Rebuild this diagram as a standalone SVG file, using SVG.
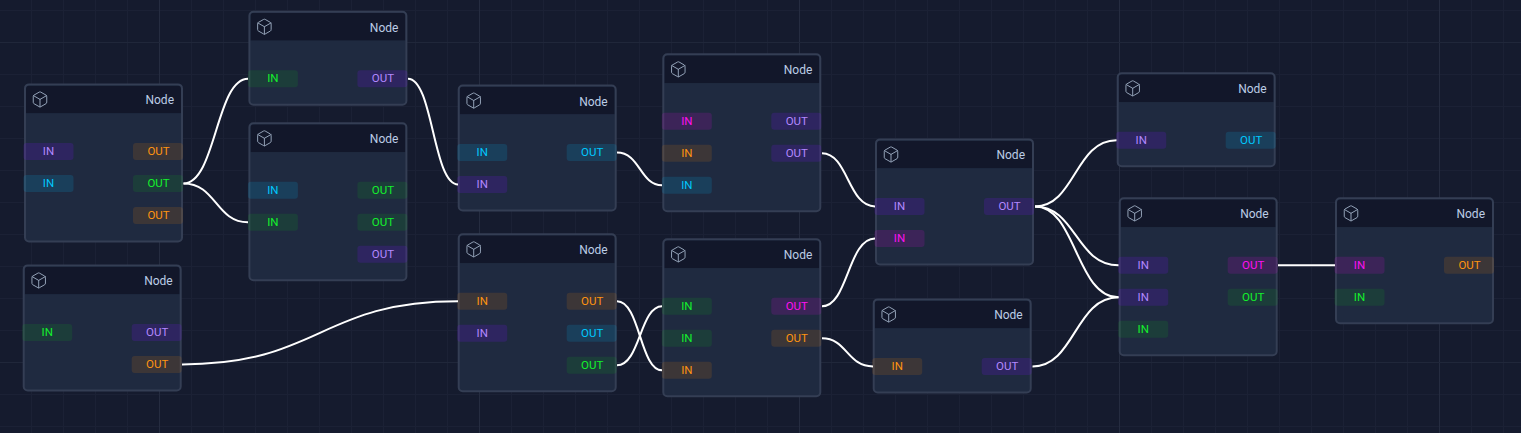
<svg xmlns="http://www.w3.org/2000/svg" width="1521" height="433" viewBox="0 0 1521 433">
<style>
.frame{fill:#1f2a40;stroke:#343e54;stroke-width:2}
.head{fill:#12172a}
.icon{fill:none;stroke:#94a3b8;stroke-width:1.33;stroke-linecap:round;stroke-linejoin:round}
.title{font:12px Roboto,"Liberation Sans",sans-serif;fill:#bccde6;text-anchor:end}
.lbl{font:11.5px Roboto,"Liberation Sans",sans-serif;text-anchor:middle;dominant-baseline:central}
.pu{fill:#7a14ff;fill-opacity:.17}.cy{fill:#00bfff;fill-opacity:.14}.gr{fill:#00ff00;fill-opacity:.09}.or{fill:#ff8c00;fill-opacity:.13}.ma{fill:#ff00ff;fill-opacity:.13}
.tpu{fill:#b388ff}.tcy{fill:#00c8ff}.tgr{fill:#14f02c}.tor{fill:#ff9410}.tma{fill:#ff10f0}
.wire{fill:none;stroke:#fff;stroke-width:2}
</style>
<defs>
<pattern id="minor" width="32" height="32" patternUnits="userSpaceOnUse" x="0" y="10">
<path d="M31.5 0V32M0 .5H32" fill="none" stroke="#1b2135" stroke-width="1"/>
</pattern>
<symbol id="cube" viewBox="0 0 24 24" width="18" height="18">
<path class="icon" d="M21 8a2 2 0 0 0-1-1.73l-7-4a2 2 0 0 0-2 0l-7 4A2 2 0 0 0 3 8v8a2 2 0 0 0 1 1.73l7 4a2 2 0 0 0 2 0l7-4A2 2 0 0 0 21 16ZM3.3 7l8.7 5 8.700-5M12 22V12"/>
</symbol>
<clipPath id="h"><path d="M2 30V6a4 4 0 0 1 4-4H153a4 4 0 0 1 4 4V30Z"/></clipPath>
</defs>
<rect width="1521" height="433" fill="#151b2e"/>
<rect width="1521" height="433" fill="url(#minor)"/>
<path d="M159.500 0V433M479.500 0V433M799.500 0V433M1119.500 0V433M1439.500 0V433" stroke="#252c40" stroke-width="1" fill="none"/>
<path d="M0 42.500H1521M0 362.500H1521" stroke="#20273a" stroke-width="1" fill="none"/>

<g id="node-1" transform="translate(24 83.400)">
<rect class="frame" x="1" y="1" width="157" height="157" rx="4"/><rect class="head" x="2" y="2" width="155" height="28" clip-path="url(#h)"/><use href="#cube" x="7" y="7"/><text class="title" x="150" y="21">Node</text>
<rect class="pu" x="-.5" y="59.500" width="50" height="17" rx="3"/><text class="lbl tpu" x="24.500" y="67.700">IN</text>
<rect class="cy" x="-.5" y="91.500" width="50" height="17" rx="3"/><text class="lbl tcy" x="24.500" y="99.700">IN</text>
<rect class="or" x="109" y="59.500" width="50" height="17" rx="3"/><text class="lbl tor" x="134.500" y="67.700">OUT</text>
<rect class="gr" x="109" y="91.500" width="50" height="17" rx="3"/><text class="lbl tgr" x="134.500" y="99.700">OUT</text>
<rect class="or" x="109" y="123.500" width="50" height="17" rx="3"/><text class="lbl tor" x="134.500" y="131.700">OUT</text>
</g>
<g id="node-2" transform="translate(248.400 10.700)">
<rect class="frame" x="1" y="1" width="157" height="93" rx="4"/><rect class="head" x="2" y="2" width="155" height="28" clip-path="url(#h)"/><use href="#cube" x="7" y="7"/><text class="title" x="150" y="21">Node</text>
<rect class="gr" x="-.5" y="59.500" width="50" height="17" rx="3"/><text class="lbl tgr" x="24.500" y="67.700">IN</text>
<rect class="pu" x="109" y="59.500" width="50" height="17" rx="3"/><text class="lbl tpu" x="134.500" y="67.700">OUT</text>
</g>
<g id="node-3" transform="translate(248.400 122.300)">
<rect class="frame" x="1" y="1" width="157" height="157" rx="4"/><rect class="head" x="2" y="2" width="155" height="28" clip-path="url(#h)"/><use href="#cube" x="7" y="7"/><text class="title" x="150" y="21">Node</text>
<rect class="cy" x="-.5" y="59.500" width="50" height="17" rx="3"/><text class="lbl tcy" x="24.500" y="67.700">IN</text>
<rect class="gr" x="-.5" y="91.500" width="50" height="17" rx="3"/><text class="lbl tgr" x="24.500" y="99.700">IN</text>
<rect class="gr" x="109" y="59.500" width="50" height="17" rx="3"/><text class="lbl tgr" x="134.500" y="67.700">OUT</text>
<rect class="gr" x="109" y="91.500" width="50" height="17" rx="3"/><text class="lbl tgr" x="134.500" y="99.700">OUT</text>
<rect class="pu" x="109" y="123.500" width="50" height="17" rx="3"/><text class="lbl tpu" x="134.500" y="131.700">OUT</text>
</g>
<g id="node-4" transform="translate(22.700 264.400)">
<rect class="frame" x="1" y="1" width="157" height="125" rx="4"/><rect class="head" x="2" y="2" width="155" height="28" clip-path="url(#h)"/><use href="#cube" x="7" y="7"/><text class="title" x="150" y="21">Node</text>
<rect class="gr" x="-.5" y="59.500" width="50" height="17" rx="3"/><text class="lbl tgr" x="24.500" y="67.700">IN</text>
<rect class="pu" x="109" y="59.500" width="50" height="17" rx="3"/><text class="lbl tpu" x="134.500" y="67.700">OUT</text>
<rect class="or" x="109" y="91.500" width="50" height="17" rx="3"/><text class="lbl tor" x="134.500" y="99.700">OUT</text>
</g>
<g id="node-5" transform="translate(457.700 84.500)">
<rect class="frame" x="1" y="1" width="157" height="125" rx="4"/><rect class="head" x="2" y="2" width="155" height="28" clip-path="url(#h)"/><use href="#cube" x="7" y="7"/><text class="title" x="150" y="21">Node</text>
<rect class="cy" x="-.5" y="59.500" width="50" height="17" rx="3"/><text class="lbl tcy" x="24.500" y="67.700">IN</text>
<rect class="pu" x="-.5" y="91.500" width="50" height="17" rx="3"/><text class="lbl tpu" x="24.500" y="99.700">IN</text>
<rect class="cy" x="109" y="59.500" width="50" height="17" rx="3"/><text class="lbl tcy" x="134.500" y="67.700">OUT</text>
</g>
<g id="node-6" transform="translate(457.700 233.300)">
<rect class="frame" x="1" y="1" width="157" height="157" rx="4"/><rect class="head" x="2" y="2" width="155" height="28" clip-path="url(#h)"/><use href="#cube" x="7" y="7"/><text class="title" x="150" y="21">Node</text>
<rect class="or" x="-.5" y="59.500" width="50" height="17" rx="3"/><text class="lbl tor" x="24.500" y="67.700">IN</text>
<rect class="pu" x="-.5" y="91.500" width="50" height="17" rx="3"/><text class="lbl tpu" x="24.500" y="99.700">IN</text>
<rect class="or" x="109" y="59.500" width="50" height="17" rx="3"/><text class="lbl tor" x="134.500" y="67.700">OUT</text>
<rect class="cy" x="109" y="91.500" width="50" height="17" rx="3"/><text class="lbl tcy" x="134.500" y="99.700">OUT</text>
<rect class="gr" x="109" y="123.500" width="50" height="17" rx="3"/><text class="lbl tgr" x="134.500" y="131.700">OUT</text>
</g>
<g id="node-7" transform="translate(662.300 53.300)">
<rect class="frame" x="1" y="1" width="157" height="157" rx="4"/><rect class="head" x="2" y="2" width="155" height="28" clip-path="url(#h)"/><use href="#cube" x="7" y="7"/><text class="title" x="150" y="21">Node</text>
<rect class="ma" x="-.5" y="59.500" width="50" height="17" rx="3"/><text class="lbl tma" x="24.500" y="67.700">IN</text>
<rect class="or" x="-.5" y="91.500" width="50" height="17" rx="3"/><text class="lbl tor" x="24.500" y="99.700">IN</text>
<rect class="cy" x="-.5" y="123.500" width="50" height="17" rx="3"/><text class="lbl tcy" x="24.500" y="131.700">IN</text>
<rect class="pu" x="109" y="59.500" width="50" height="17" rx="3"/><text class="lbl tpu" x="134.500" y="67.700">OUT</text>
<rect class="pu" x="109" y="91.500" width="50" height="17" rx="3"/><text class="lbl tpu" x="134.500" y="99.700">OUT</text>
</g>
<g id="node-8" transform="translate(662.300 238.300)">
<rect class="frame" x="1" y="1" width="157" height="157" rx="4"/><rect class="head" x="2" y="2" width="155" height="28" clip-path="url(#h)"/><use href="#cube" x="7" y="7"/><text class="title" x="150" y="21">Node</text>
<rect class="gr" x="-.5" y="59.500" width="50" height="17" rx="3"/><text class="lbl tgr" x="24.500" y="67.700">IN</text>
<rect class="gr" x="-.5" y="91.500" width="50" height="17" rx="3"/><text class="lbl tgr" x="24.500" y="99.700">IN</text>
<rect class="or" x="-.5" y="123.500" width="50" height="17" rx="3"/><text class="lbl tor" x="24.500" y="131.700">IN</text>
<rect class="ma" x="109" y="59.500" width="50" height="17" rx="3"/><text class="lbl tma" x="134.500" y="67.700">OUT</text>
<rect class="or" x="109" y="91.500" width="50" height="17" rx="3"/><text class="lbl tor" x="134.500" y="99.700">OUT</text>
</g>
<g id="node-9" transform="translate(875 138.400)">
<rect class="frame" x="1" y="1" width="157" height="125" rx="4"/><rect class="head" x="2" y="2" width="155" height="28" clip-path="url(#h)"/><use href="#cube" x="7" y="7"/><text class="title" x="150" y="21">Node</text>
<rect class="pu" x="-.5" y="59.500" width="50" height="17" rx="3"/><text class="lbl tpu" x="24.500" y="67.700">IN</text>
<rect class="ma" x="-.5" y="91.500" width="50" height="17" rx="3"/><text class="lbl tma" x="24.500" y="99.700">IN</text>
<rect class="pu" x="109" y="59.500" width="50" height="17" rx="3"/><text class="lbl tpu" x="134.500" y="67.700">OUT</text>
</g>
<g id="node-10" transform="translate(872.700 298.400)">
<rect class="frame" x="1" y="1" width="157" height="93" rx="4"/><rect class="head" x="2" y="2" width="155" height="28" clip-path="url(#h)"/><use href="#cube" x="7" y="7"/><text class="title" x="150" y="21">Node</text>
<rect class="or" x="-.5" y="59.500" width="50" height="17" rx="3"/><text class="lbl tor" x="24.500" y="67.700">IN</text>
<rect class="pu" x="109" y="59.500" width="50" height="17" rx="3"/><text class="lbl tpu" x="134.500" y="67.700">OUT</text>
</g>
<g id="node-11" transform="translate(1116.700 72.300)">
<rect class="frame" x="1" y="1" width="157" height="93" rx="4"/><rect class="head" x="2" y="2" width="155" height="28" clip-path="url(#h)"/><use href="#cube" x="7" y="7"/><text class="title" x="150" y="21">Node</text>
<rect class="pu" x="-.5" y="59.500" width="50" height="17" rx="3"/><text class="lbl tpu" x="24.500" y="67.700">IN</text>
<rect class="cy" x="109" y="59.500" width="50" height="17" rx="3"/><text class="lbl tcy" x="134.500" y="67.700">OUT</text>
</g>
<g id="node-12" transform="translate(1118.700 197.300)">
<rect class="frame" x="1" y="1" width="157" height="157" rx="4"/><rect class="head" x="2" y="2" width="155" height="28" clip-path="url(#h)"/><use href="#cube" x="7" y="7"/><text class="title" x="150" y="21">Node</text>
<rect class="pu" x="-.5" y="59.500" width="50" height="17" rx="3"/><text class="lbl tpu" x="24.500" y="67.700">IN</text>
<rect class="pu" x="-.5" y="91.500" width="50" height="17" rx="3"/><text class="lbl tpu" x="24.500" y="99.700">IN</text>
<rect class="gr" x="-.5" y="123.500" width="50" height="17" rx="3"/><text class="lbl tgr" x="24.500" y="131.700">IN</text>
<rect class="ma" x="109" y="59.500" width="50" height="17" rx="3"/><text class="lbl tma" x="134.500" y="67.700">OUT</text>
<rect class="gr" x="109" y="91.500" width="50" height="17" rx="3"/><text class="lbl tgr" x="134.500" y="99.700">OUT</text>
</g>
<g id="node-13" transform="translate(1335 197.300)">
<rect class="frame" x="1" y="1" width="157" height="125" rx="4"/><rect class="head" x="2" y="2" width="155" height="28" clip-path="url(#h)"/><use href="#cube" x="7" y="7"/><text class="title" x="150" y="21">Node</text>
<rect class="ma" x="-.5" y="59.500" width="50" height="17" rx="3"/><text class="lbl tma" x="24.500" y="67.700">IN</text>
<rect class="gr" x="-.5" y="91.500" width="50" height="17" rx="3"/><text class="lbl tgr" x="24.500" y="99.700">IN</text>
<rect class="or" x="109" y="59.500" width="50" height="17" rx="3"/><text class="lbl tor" x="134.500" y="67.700">OUT</text>
</g>
<g id="connectors">
<path class="wire" d="M183.500 183.400C216 183.400 216 78.700 248 78.700"/>
<path class="wire" d="M183.500 183.400C216 183.400 216 222.300 248 222.300"/>
<path class="wire" d="M408 78.700C433 78.700 433 184.500 458 184.500"/>
<path class="wire" d="M182 364.400C320 364.400 320 301.300 458 301.300"/>
<path class="wire" d="M617 152.500C640 152.500 640 185.300 662 185.300"/>
<path class="wire" d="M617 301.300C640 301.300 640 370.300 662 370.300"/>
<path class="wire" d="M617 365.300C640 365.300 640 306.300 662 306.300"/>
<path class="wire" d="M822 153.300C848 153.300 848 206.400 875 206.400"/>
<path class="wire" d="M822 306.300C848 306.300 848 238.400 875 238.400"/>
<path class="wire" d="M822 338.300C847 338.300 847 366.400 873 366.400"/>
<path class="wire" d="M1035 206.400C1075 206.400 1075 140.300 1116.500 140.300"/>
<path class="wire" d="M1035 206.400C1076 206.400 1076 265.300 1118.500 265.300"/>
<path class="wire" d="M1035 206.400C1076 206.400 1076 297.300 1118.500 297.300"/>
<path class="wire" d="M1032.500 366.400C1075 366.400 1075 297.300 1118.500 297.300"/>
<path class="wire" d="M1278 265.300H1335"/>
</g>
</svg>
